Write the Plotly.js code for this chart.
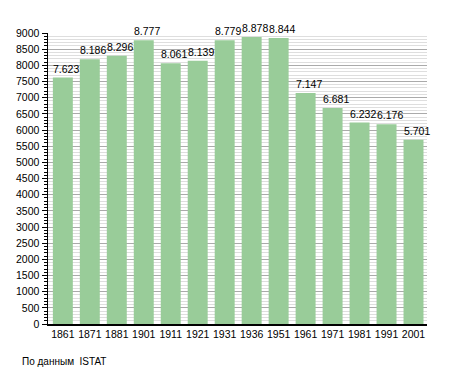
<!DOCTYPE html>
<html><head><meta charset="utf-8">
<script src="https://cdn.plot.ly/plotly-3.0.1.min.js"></script>
<style>html,body{margin:0;padding:0;background:#fff;}#chart{width:455px;height:373px;}</style>
</head><body><div id="chart"></div>
<script>
const years = ['1861','1871','1881','1901','1911','1921','1931','1936','1951','1961','1971','1981','1991','2001'];
const population = [7623,8186,8296,8777,8061,8139,8779,8878,8844,7147,6681,6232,6176,5701];
const yTicks = [0,500,1000,1500,2000,2500,3000,3500,4000,4500,5000,5500,6000,6500,7000,7500,8000,8500,9000];
const sourceNote = 'По данным  ISTAT';

const fmt = v => (v/1000).toFixed(3);
const font = {family:'"Liberation Sans", Arial, sans-serif', size:10, color:'#000'};

const annotations = years.map((y,i)=>({
  x:i, y:population[i], xref:'x', yref:'y', text:fmt(population[i]),
  showarrow:false, xanchor:'left', yanchor:'bottom', xshift:-12, yshift:1,
  font:{...font, size:10.5}
}));
annotations.push({xref:'paper', yref:'paper', x:-0.074, y:-0.13, xanchor:'left', yanchor:'middle',
  text:sourceNote, showarrow:false, font:{...font, size:10}});

Plotly.newPlot('chart',[{
  type:'bar', x:years, y:population,
  marker:{color:'#99cc99', line:{width:0}},
  hoverinfo:'none'
}],{
  width:455, height:373,
  margin:{l:48, r:28, t:33, b:49},
  paper_bgcolor:'#fff', plot_bgcolor:'#fff',
  bargap:0.26,
  font:font,
  showlegend:false,
  xaxis:{type:'category', showline:true, linecolor:'#000', linewidth:1.5, ticks:'', tickfont:{...font, size:10.5},
    showgrid:false, range:[-0.55,13.5]},
  yaxis:{range:[0,9000], tickvals:yTicks, showline:true, linecolor:'#000', linewidth:1.5,
    ticks:'outside', ticklen:5, tickcolor:'#000', tickfont:{...font, size:10.5},
    showgrid:true, gridcolor:'#aaaaaa', gridwidth:1, zeroline:false,
    minor:{dtick:100, showgrid:true, gridcolor:'#dedede', ticks:'outside', ticklen:3, tickcolor:'#000'}},
  annotations:annotations
},{staticPlot:true, displayModeBar:false});
</script></body></html>
